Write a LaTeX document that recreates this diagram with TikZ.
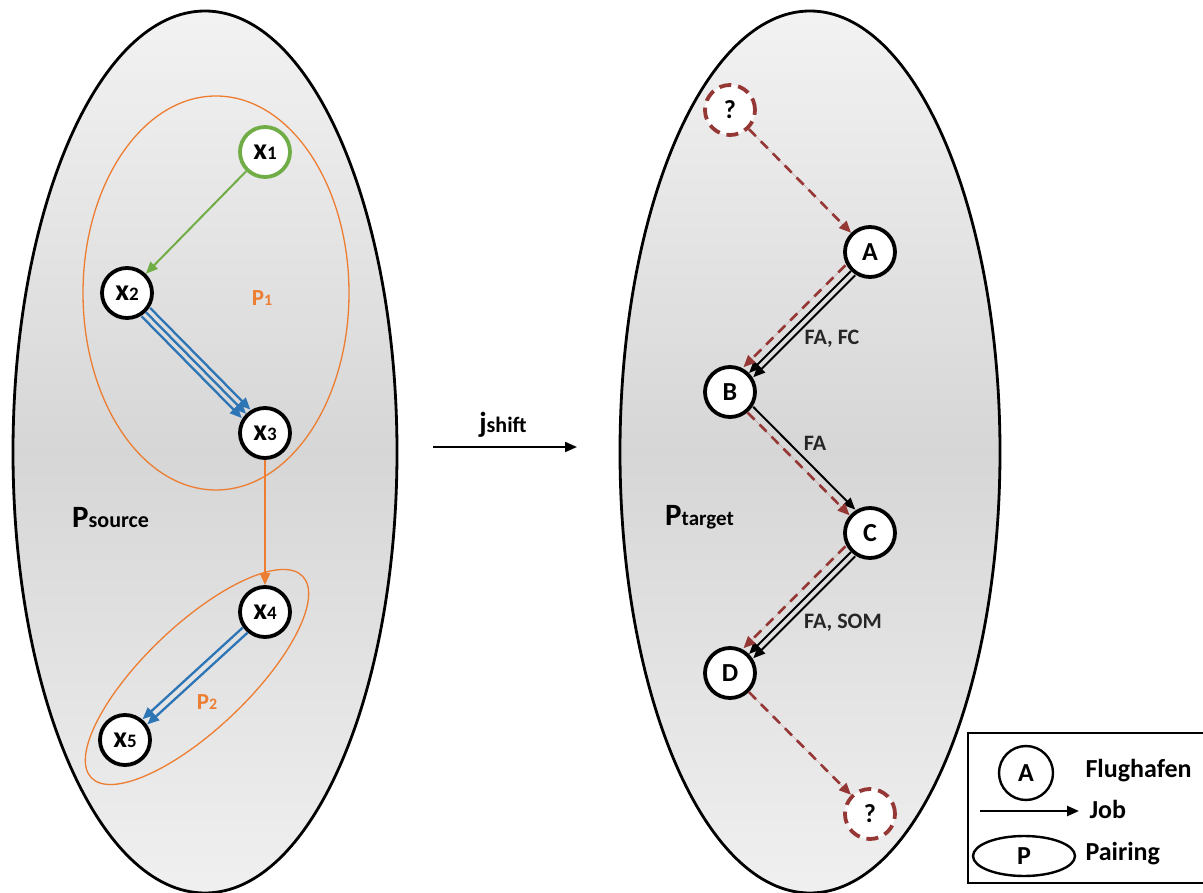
\documentclass[tikz,border=0pt]{standalone}
\usepackage{fontspec}
\setmainfont{Carlito}
\usetikzlibrary{arrows.meta,shapes.geometric}

\definecolor{jobgreen}{HTML}{70AD47}
\definecolor{pairorange}{HTML}{ED7D31}
\definecolor{jobblue}{HTML}{2E75B6}
\definecolor{shiftred}{HTML}{953735}

% smaller second part of a label (index, subscript text) on the same baseline
\newcommand\smallpart[2]{{\fontsize{#1}{#1}\selectfont #2}}

\begin{document}
\begin{tikzpicture}[x=1pt,y=-1pt,
  region/.style={draw=black, line width=2.8pt, top color=black!5, bottom color=black!6, middle color=black!16},
  pairing/.style={draw=pairorange, line width=1.3pt},
  airport/.style={circle, draw=black, line width=3.8pt, fill=white, minimum size=50pt, inner sep=0pt,
    font=\fontsize{26}{26}\selectfont\bfseries},
  xvar/.style={airport, font=\fontsize{30}{30}\selectfont\bfseries},
  unknown/.style={airport, draw=shiftred, dash pattern=on 12pt off 7pt},
  headtip/.style={-{Triangle[length=12pt,width=10pt]}},
  greenjob/.style={headtip, draw=jobgreen, fill=jobgreen, line width=2pt},
  orangejob/.style={headtip, draw=pairorange, fill=pairorange, line width=2.5pt},
  bluejob/.style={headtip, draw=jobblue, fill=jobblue, line width=2.3pt},
  blackjob/.style={headtip, draw=black, fill=black, line width=2pt},
  shiftjob/.style={headtip, draw=shiftred, fill=shiftred, line width=2.6pt, dash pattern=on 10pt off 7pt},
  joblabel/.style={font=\fontsize{22}{22}\selectfont\bfseries, text=black!85},
  legendtext/.style={anchor=west, font=\fontsize{26}{26}\selectfont\bfseries}
]
\useasboundingbox (0,0) rectangle (1203,893);

% ---------- source pairing set ----------
\path[region] (205,452) ellipse [x radius=192, y radius=441];
\draw[pairing] (216,293) ellipse [x radius=133, y radius=197];
\draw[pairing, rotate around={43.6:(197,677)}] (197,677) ellipse [x radius=146, y radius=52];

\node[xvar, draw=jobgreen] (x1) at (265,152) {x\smallpart{19}{1}};
\node[xvar] (x2) at (127,293) {x\smallpart{19}{2}};
\node[xvar] (x3) at (265,433) {x\smallpart{19}{3}};
\node[xvar] (x4) at (265,612) {x\smallpart{19}{4}};
\node[xvar] (x5) at (125,740) {x\smallpart{19}{5}};

\node[text=pairorange, font=\fontsize{23}{23}\selectfont\bfseries] (p1) at (262,298) {P\smallpart{16}{1}};
\node[text=pairorange, font=\fontsize{23}{23}\selectfont\bfseries] (p2) at (207,702) {P\smallpart{16}{2}};
\node[anchor=base west, inner sep=0pt, font=\fontsize{31}{31}\selectfont\bfseries] (psource) at (72,527) {P\smallpart{22}{source}};

\draw[greenjob] (x1) -- (x2);
\foreach \s in {-6,0,6}
  \draw[bluejob, transform canvas={shift={(0.707*\s,-0.707*\s)}}] (x2) -- (x3);
\draw[orangejob] (x3) -- (x4);
\foreach \s in {-3.5,3.5}
  \draw[bluejob, transform canvas={shift={(0.675*\s,0.738*\s)}}] (x4) -- (x5);

% ---------- shift ----------
\coordinate (shiftstart) at (433,447);
\coordinate (shiftend) at (577,447);
\draw[blackjob] (shiftstart) -- (shiftend);
\node[anchor=base, inner sep=0pt, font=\fontsize{29}{29}\selectfont\bfseries] (jshift) at (503,432) {j\smallpart{22}{shift}};

% ---------- target pairing ----------
\path[region] (810,452) ellipse [x radius=190, y radius=441];
\node[anchor=base west, inner sep=0pt, font=\fontsize{31}{31}\selectfont\bfseries] (ptarget) at (665,525) {P\smallpart{21}{target}};

\node[unknown] (q1) at (730,110) {?};
\node[airport] (A) at (870,252) {A};
\node[airport] (B) at (730,392) {B};
\node[airport] (C) at (870,533) {C};
\node[airport] (D) at (730,673) {D};
\node[unknown] (q2) at (870,814) {?};

\draw[shiftjob] (q1) -- (A);
\foreach \s in {0,6}
  \draw[blackjob, transform canvas={shift={(0.702*\s,0.712*\s)}}] (A) -- (B);
\draw[shiftjob, transform canvas={shift={(-0.702*8,-0.712*8)}}] (A) -- (B);
\draw[blackjob, transform canvas={shift={(0.707*6,-0.707*6)}}] (B) -- (C);
\draw[shiftjob, transform canvas={shift={(-0.707*2,0.707*2)}}] (B) -- (C);
\foreach \s in {0,6}
  \draw[blackjob, transform canvas={shift={(0.702*\s,0.712*\s)}}] (C) -- (D);
\draw[shiftjob, transform canvas={shift={(-0.702*8,-0.712*8)}}] (C) -- (D);
\draw[shiftjob] (D) -- (q2);

\node[joblabel] (lab) at (832,339) {FA, FC};
\node[joblabel] (lbc) at (815,443) {FA};
\node[joblabel] (lcd) at (843,623) {FA, SOM};

% ---------- legend ----------
\draw[line width=2.4pt, fill=white] (968,733) rectangle (1215,883);
\node[airport, line width=2.4pt, minimum size=54pt] (legA) at (1026,773) {A};
\node[legendtext] (legA text) at (1082,771) {Flughafen};
\coordinate (legjobstart) at (980,811);
\coordinate (legjobend) at (1079,811);
\draw[blackjob, line width=2.4pt] (legjobstart) -- (legjobend);
\node[legendtext] (legjob text) at (1086,809) {Job};
\node[ellipse, draw, line width=2.4pt, minimum width=102pt, minimum height=40pt, inner sep=0pt,
  font=\fontsize{26}{26}\selectfont\bfseries] (legP) at (1024,856) {P};
\node[legendtext] (legP text) at (1082,854) {Pairing};
\end{tikzpicture}
\end{document}
